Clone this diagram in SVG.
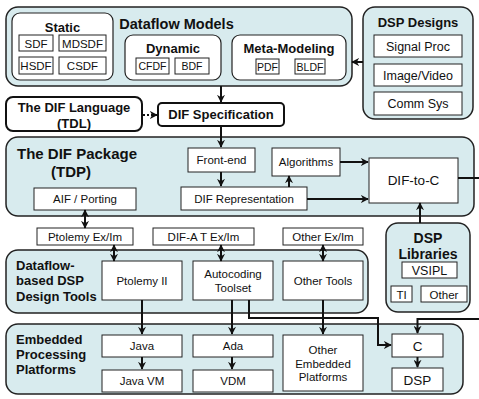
<svg xmlns="http://www.w3.org/2000/svg" width="479" height="399" viewBox="0 0 479 399">
<defs>
<style>
.panel{fill:#d8ebee;stroke:#222;stroke-width:1.5}
.sub{fill:#fff;stroke:#222;stroke-width:1.2}
.box{fill:#fff;stroke:#222;stroke-width:1}
.thick{fill:#fff;stroke:#111;stroke-width:2}
text{font-family:"Liberation Sans",Arial,Helvetica,sans-serif;fill:#111}
.t{font-size:11.5px;text-anchor:middle}
.m{font-size:12.5px;text-anchor:middle}
.s{font-size:10.5px;text-anchor:middle}
.h{font-weight:bold;font-size:13px;text-anchor:middle}
.hl{font-weight:bold;font-size:13px}
.c{fill:none;stroke:#111;stroke-width:2}
.a{marker-end:url(#ah)}
.d{marker-start:url(#ah);marker-end:url(#ah)}
</style>
<marker id="ah" viewBox="0 0 10 10" refX="9" refY="5" markerWidth="8" markerHeight="8" markerUnits="userSpaceOnUse" orient="auto-start-reverse"><path d="M0,0 L10,5 L0,10 L3,5 z" fill="#111"/></marker>
</defs>

<g id="dataflow-models">
<rect class="panel" x="6" y="7" width="346" height="79" rx="12"/>
<text x="176.5" y="28.5" style="font-weight:bold;font-size:14.5px;text-anchor:middle">Dataflow Models</text>
<g id="static">
<rect class="sub" x="12" y="13" width="101" height="67" rx="8"/>
<text class="h" x="62.5" y="32">Static</text>
<rect class="box" x="19" y="35" width="34" height="16"/><text class="t" x="36" y="47.5">SDF</text>
<rect class="box" x="59" y="35" width="47" height="16"/><text class="t" x="82.5" y="47.5">MDSDF</text>
<rect class="box" x="19" y="57" width="34" height="17"/><text class="t" x="36" y="70">HSDF</text>
<rect class="box" x="59" y="57" width="47" height="17"/><text class="t" x="82.5" y="70">CSDF</text>
</g>
<g id="dynamic">
<rect class="sub" x="125" y="35" width="96" height="45" rx="8"/>
<text class="h" x="173" y="53">Dynamic</text>
<rect class="box" x="136" y="58" width="33" height="16"/><text class="s" x="152.5" y="70">CFDF</text>
<rect class="box" x="175" y="58" width="34" height="16"/><text class="s" x="192" y="70">BDF</text>
</g>
<g id="meta-modeling">
<rect class="sub" x="232" y="35" width="114" height="45" rx="8"/>
<text class="h" x="289" y="53">Meta-Modeling</text>
<rect class="box" x="256" y="59" width="23" height="15"/><text class="s" x="267.5" y="70.5">PDF</text>
<rect class="box" x="295" y="59" width="30" height="15"/><text class="s" x="310" y="70.5">BLDF</text>
</g>
</g>

<g id="dsp-designs">
<rect class="panel" x="363" y="7" width="110" height="112" rx="12"/>
<text class="h" x="418" y="27">DSP Designs</text>
<rect class="box" x="374" y="35" width="88" height="22"/><text class="m" x="418" y="50.5">Signal Proc</text>
<rect class="box" x="374" y="64" width="88" height="22"/><text class="m" x="418" y="79.5">Image/Video</text>
<rect class="box" x="374" y="92" width="88" height="23"/><text class="m" x="418" y="108">Comm Sys</text>
</g>

<g id="tdl">
<rect class="thick" x="6" y="97" width="136" height="34" rx="7"/>
<text class="h" x="74" y="111.5">The DIF Language</text>
<text class="h" x="74" y="127.5">(TDL)</text>
</g>

<g id="dif-spec">
<rect class="thick" x="158" y="103" width="126" height="23" rx="4"/>
<text class="h" x="221" y="119">DIF Specification</text>
</g>

<g id="tdp">
<rect class="panel" x="6" y="137" width="468" height="79" rx="12"/>
<text x="17" y="159" style="font-weight:bold;font-size:15px">The DIF Package</text>
<text x="71" y="177" style="font-weight:bold;font-size:15px;text-anchor:middle">(TDP)</text>
<g id="front-end"><rect class="box" x="188" y="148" width="67" height="24"/><text class="t" x="221.5" y="164">Front-end</text></g>
<g id="algorithms"><rect class="box" x="272" y="148" width="68" height="28"/><text class="t" x="306" y="165.5">Algorithms</text></g>
<g id="dif-rep"><rect class="box" x="181" y="187" width="126" height="23"/><text class="t" x="244" y="202.5">DIF Representation</text></g>
<g id="aif"><rect class="box" x="34" y="188" width="102" height="22"/><text class="t" x="85" y="203">AIF / Porting</text></g>
<g id="dif-to-c"><rect class="box" x="369" y="158" width="89" height="45"/><text x="413.5" y="185" style="font-size:13.5px;text-anchor:middle">DIF-to-C</text></g>
</g>

<g id="ptolemy-exim"><rect class="box" x="37" y="228" width="96" height="17"/><text class="t" x="85" y="240.5">Ptolemy Ex/Im</text></g>
<g id="difat-exim"><rect class="box" x="153" y="228" width="101" height="17"/><text class="t" x="203.5" y="240.5">DIF-A T Ex/Im</text></g>
<g id="other-exim"><rect class="box" x="283" y="228" width="80" height="17"/><text class="t" x="323" y="240.5">Other Ex/Im</text></g>

<g id="design-tools">
<rect class="panel" x="6" y="250" width="362" height="63" rx="12"/>
<text class="hl" x="16" y="270">Dataflow-</text>
<text class="hl" x="16" y="285">based DSP</text>
<text class="hl" x="16" y="300.5">Design Tools</text>
<g id="ptolemy-ii"><rect class="box" x="102" y="261" width="80" height="39"/><text class="t" x="142" y="284.5">Ptolemy II</text></g>
<g id="autocoding"><rect class="box" x="193" y="261" width="80" height="39"/><text class="t" x="233" y="278">Autocoding</text><text class="t" x="233" y="292">Toolset</text></g>
<g id="other-tools"><rect class="box" x="283" y="261" width="80" height="39"/><text class="t" x="323" y="284.5">Other Tools</text></g>
</g>

<g id="dsp-libraries">
<rect class="panel" x="386" y="223" width="84" height="89" rx="12"/>
<text x="428" y="243" style="font-weight:bold;font-size:14px;text-anchor:middle">DSP</text>
<text x="428" y="259" style="font-weight:bold;font-size:14px;text-anchor:middle">Libraries</text>
<rect class="box" x="402" y="262" width="55" height="16"/><text class="m" x="429.5" y="275">VSIPL</text>
<rect class="box" x="391" y="286" width="21" height="16"/><text class="t" x="401.5" y="298.5">TI</text>
<rect class="box" x="421" y="286" width="46" height="16"/><text class="t" x="444" y="298.5">Other</text>
</g>

<g id="embedded">
<rect class="panel" x="6" y="324" width="457" height="70" rx="12"/>
<text class="hl" x="16" y="344">Embedded</text>
<text class="hl" x="16" y="359">Processing</text>
<text class="hl" x="16" y="374">Platforms</text>
<g id="java"><rect class="box" x="102" y="335" width="80" height="22"/><text class="t" x="142" y="350">Java</text></g>
<g id="java-vm"><rect class="box" x="102" y="370" width="80" height="22"/><text class="t" x="142" y="385">Java VM</text></g>
<g id="ada"><rect class="box" x="193" y="335" width="80" height="22"/><text class="t" x="233" y="350">Ada</text></g>
<g id="vdm"><rect class="box" x="193" y="370" width="80" height="22"/><text class="t" x="233" y="385">VDM</text></g>
<g id="other-embedded"><rect class="box" x="283" y="335" width="80" height="56"/><text class="t" x="323" y="354">Other</text><text class="t" x="323" y="367.5">Embedded</text><text class="t" x="323" y="381">Platforms</text></g>
<g id="c"><rect class="box" x="392" y="334" width="51" height="23"/><text x="417.5" y="350.5" style="font-size:13.5px;text-anchor:middle">C</text></g>
<g id="dsp"><rect class="box" x="392" y="368" width="51" height="23"/><text x="417.5" y="384.5" style="font-size:13.5px;text-anchor:middle">DSP</text></g>
</g>

<g id="connectors">
<line class="c a" x1="363" y1="62" x2="352" y2="62"/>
<line class="c a" x1="221" y1="86" x2="221" y2="102"/>
<line class="c a" x1="143" y1="115" x2="157" y2="115" style="stroke-dasharray:2,2"/>
<line class="c a" x1="221" y1="126" x2="221" y2="147"/>
<line class="c a" x1="221" y1="172" x2="221" y2="186"/>
<line class="c a" x1="289" y1="187" x2="289" y2="176"/>
<line class="c a" x1="340" y1="162" x2="368" y2="162"/>
<line class="c a" x1="307" y1="199" x2="368" y2="199"/>
<line class="c" x1="458" y1="178" x2="479" y2="178"/>
<line class="c a" x1="420" y1="223" x2="420" y2="203"/>
<line class="c d" x1="85" y1="210" x2="85" y2="228"/>
<line class="c d" x1="114" y1="245" x2="114" y2="261"/>
<line class="c d" x1="221" y1="245" x2="221" y2="261"/>
<line class="c d" x1="323" y1="245" x2="323" y2="261"/>
<line class="c a" x1="142" y1="300" x2="142" y2="334"/>
<line class="c a" x1="232" y1="300" x2="232" y2="334"/>
<line class="c a" x1="323" y1="300" x2="323" y2="334"/>
<path class="c a" d="M249,300 V318 H378 V345 H391"/>
<path class="c a" d="M479,319 H417.5 V333"/>
<line class="c a" x1="142" y1="357" x2="142" y2="369"/>
<line class="c a" x1="232" y1="357" x2="232" y2="369"/>
<line class="c a" x1="417.5" y1="357" x2="417.5" y2="367"/>
</g>
</svg>
